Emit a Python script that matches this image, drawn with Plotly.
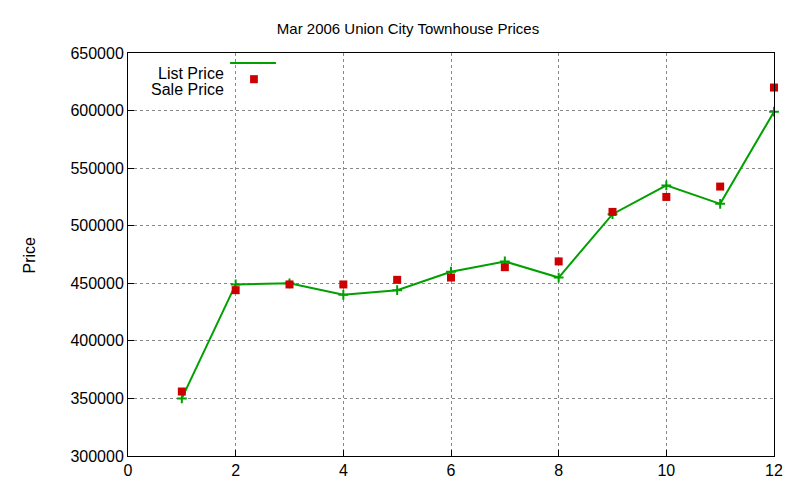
import plotly.graph_objects as go

# Values
months = [1, 2, 3, 4, 5, 6, 7, 8, 9, 10, 11, 12]
list_price = [350000, 449000, 450000, 440000, 444000, 460000, 469000, 455000, 510000, 535000, 519000, 599000]
sale_price = [356000, 444000, 449000, 449000, 453000, 455000, 464000, 469000, 512000, 525000, 534000, 620000]

green = "#00a000"
red = "#cc0000"
font = "Liberation Sans, Arial, sans-serif"

fig = go.Figure()
fig.add_trace(go.Scatter(
    x=months, y=list_price, mode="lines+markers", name="List Price",
    line=dict(color=green, width=2),
    marker=dict(symbol="cross-thin", size=7, line=dict(color=green, width=2)),
    cliponaxis=False,
))
fig.add_trace(go.Scatter(
    x=months, y=sale_price, mode="markers", name="Sale Price",
    marker=dict(symbol="square", size=8, color=red),
    cliponaxis=False,
))

axis = dict(
    showline=True, linecolor="black", linewidth=1, mirror=True,
    showgrid=True, gridcolor="#888888", griddash="dot", gridwidth=1,
    ticks="inside", ticklen=6, tickcolor="black", zeroline=False,
    tickfont=dict(family=font, size=16, color="black"),
)

fig.update_layout(
    width=800, height=480,
    paper_bgcolor="white", plot_bgcolor="white",
    margin=dict(l=120, r=34, t=45, b=32, autoexpand=False),
    showlegend=False,
    title=dict(text="Mar 2006 Union City Townhouse Prices", x=0.5, xanchor="center",
               y=0.957, yanchor="middle", font=dict(family=font, size=15, color="black")),
    xaxis=dict(range=[0, 12], dtick=2, automargin=False, **axis),
    yaxis=dict(range=[300000, 650000], dtick=50000, tickformat="d", automargin=False, **axis),
    annotations=[
        dict(text="Price", textangle=-90, xref="paper", yref="paper", x=-0.168, y=0.5,
             showarrow=False, font=dict(family=font, size=16, color="black")),
        dict(text="List Price", xref="paper", yref="paper", x=0.151, y=0.975, xanchor="right",
             showarrow=False, font=dict(family=font, size=16, color="black")),
        dict(text="Sale Price", xref="paper", yref="paper", x=0.151, y=0.935, xanchor="right",
             showarrow=False, font=dict(family=font, size=16, color="black")),
    ],
    shapes=[
        dict(type="line", xref="paper", yref="paper", x0=0.158, x1=0.229, y0=0.975, y1=0.975,
             line=dict(color=green, width=2)),
        dict(type="rect", xref="paper", yref="paper", x0=0.189, x1=0.201, y0=0.925, y1=0.945,
             fillcolor=red, line=dict(width=0)),
    ],
)

fig.write_html("out.html")
